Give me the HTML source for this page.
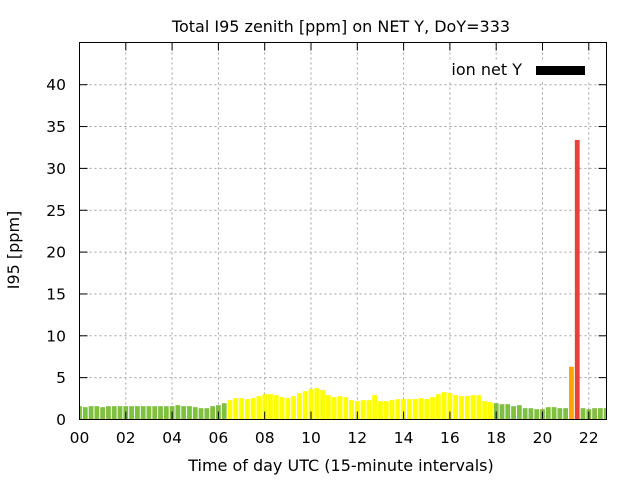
<!DOCTYPE html>
<html><head><meta charset="utf-8"><style>
body{margin:0;background:#fff}
svg{display:block;font-family:"DejaVu Sans","Liberation Sans",sans-serif}
</style></head><body>
<svg id="s" width="640" height="480" xmlns="http://www.w3.org/2000/svg">
<rect width="640" height="480" fill="#fff"/>
<g id="grid" stroke="#a0a0a0" stroke-width="1" stroke-dasharray="2,3"></g>
<g id="bars"></g>
<g id="ticks" stroke="#000" stroke-width="1"></g>
<rect x="79.5" y="42.5" width="527" height="377" fill="none" stroke="#000" stroke-width="1"/>
<g id="labels" font-size="15.5" fill="#000"></g>
<text x="341" y="32" font-size="16" text-anchor="middle">Total I95 zenith [ppm] on NET Y, DoY=333</text>
<text x="341" y="471" font-size="16" text-anchor="middle">Time of day UTC (15-minute intervals)</text>
<text transform="translate(19,250) rotate(-90)" font-size="16" text-anchor="middle">I95 [ppm]</text>
<rect x="445" y="60" width="145" height="20" fill="#fff"/>
<text x="522" y="75" font-size="16" text-anchor="end">ion net Y</text>
<rect x="536" y="66" width="49" height="9" fill="#000"/>
</svg>
<script>
var ns="http://www.w3.org/2000/svg";
function el(p,t,a,txt){var e=document.createElementNS(ns,t);for(var k in a)e.setAttribute(k,a[k]);if(txt)e.textContent=txt;document.getElementById(p).appendChild(e);}
var L=79.5,R=606.5,T=42.5,B=419.5,ppu=8.37,pph=23.15;
for(var v=0;v<=40;v+=5){var y=B-v*ppu;
 if(v>0)el("grid","line",{x1:L,x2:R,y1:y,y2:y});
 el("ticks","line",{x1:L,x2:L+8,y1:y,y2:y});el("ticks","line",{x1:R,x2:R-8,y1:y,y2:y});
 el("labels","text",{x:66,y:y+5.5,"text-anchor":"end"},String(v));}
for(var h=0;h<=22;h+=2){var x=L+h*pph;
 if(h>0)el("grid","line",{x1:x,x2:x,y1:T,y2:B});
 el("ticks","line",{x1:x,x2:x,y1:B,y2:B-8});el("ticks","line",{x1:x,x2:x,y1:T,y2:T+8});
 el("labels","text",{x:x,y:443,"text-anchor":"middle"},(h<10?"0":"")+h);}
var tops=[138,141,138,138,141,138,138,138,138,138,138,138,138,138,138,138,138,135,138,138,141,144,144,138,135,129,120,114,114,117,114,108,102,102,105,111,114,108,99,93,87,84,90,105,111,108,111,120,123,120,120,105,123,123,120,117,117,117,117,114,117,111,102,96,99,105,108,108,105,105,123,126,129,132,132,138,135,144,144,147,147,141,141,144,144,0,0,144,147,144,144,144];
var pitch=pph/4;
for(var i=0;i<tops.length;i++){var hpx=(178-tops[i])/3,val=hpx/ppu,col;
 if(i==85){val=6.3;col="#ffa500";}else if(i==86){val=33.4;col="#e8413c";}
 else col=val<2?"#80c040":"#ffff00";
 hpx=val*ppu;var cx=L+i*pitch,x0=Math.max(L,cx-2.4),x1=Math.min(R,cx+2.4);
 el("bars","rect",{x:x0,y:B-hpx,width:x1-x0,height:hpx,fill:col});}
</script>
</body></html>
